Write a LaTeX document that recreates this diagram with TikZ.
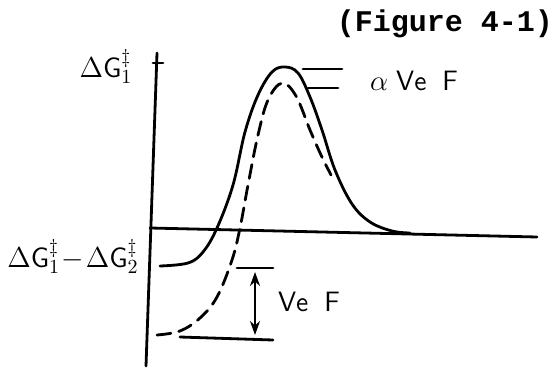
\documentclass[tikz,border=0pt]{standalone}
\usepackage{fontspec}
\setmonofont{Liberation Mono}
\usetikzlibrary{arrows.meta}
\tikzset{
  pen/.style={line width=1.4pt, line cap=round, line join=round},
  dashpen/.style={pen, dash pattern=on 7pt off 4pt},
  hand/.style={font=\fontsize{14}{16}\selectfont, inner sep=0pt}
}

\begin{document}
\begin{tikzpicture}[x=0.5pt, y=-0.5pt, thick]
  \useasboundingbox (0,0) rectangle (560,368);
  % Axes
  \draw[pen] (157,53) -- (146,366);
  \draw[pen] (153,63) -- (163,63);
  \draw[pen] (150,228) -- (537,237);

  % Energy curves
  \draw[pen] plot[smooth, tension=0.6] coordinates {(160,266) (188,263) (203,252) (217,228) (233,185) (245,132) (258,95) (272,72) (285,67) (298,73) (310,97) (322,130) (335,170) (352,204) (370,222) (392,231) (410,233)};
  \draw[dashpen] plot[smooth, tension=0.6] coordinates {(157,335) (180,331) (200,318) (217,297) (232,260) (240,228) (248,185) (258,135) (268,100) (282,83) (296,96) (310,130) (321,155) (331,175)};

  % Levels
  \draw[pen] (303,69) -- (342,69);
  \draw[pen] (308,88) -- (338,88);
  \draw[pen] (237,268) -- (273,268);
  \draw[pen] (180,337) -- (273,340);
  \coordinate (up) at (255,272);
  \coordinate (lo) at (255,335);
  \draw[pen, {Stealth[length=7pt, width=5pt]}-{Stealth[length=7pt, width=5pt]}] (up) -- (lo);

  % Labels
  \node[hand] (gone) at (106,67) {$\Delta \mathsf{G}_1^{\ddagger}$};
  \node[hand] (gdiff) at (73,257) {$\Delta \mathsf{G}_1^{\ddagger}\!-\!\Delta \mathsf{G}_2^{\ddagger}$};
  \node[hand] (aVF) at (414,81) {$\alpha\;\mathsf{Ve}\;\;\mathsf{F}$};
  \node[hand] (VF) at (309,302) {$\mathsf{Ve}\;\;\mathsf{F}$};
  \node[font=\ttfamily\bfseries\fontsize{15}{18}\selectfont, inner sep=0pt] (fig) at (445,24) {(Figure 4-1)};
\end{tikzpicture}
\end{document}
